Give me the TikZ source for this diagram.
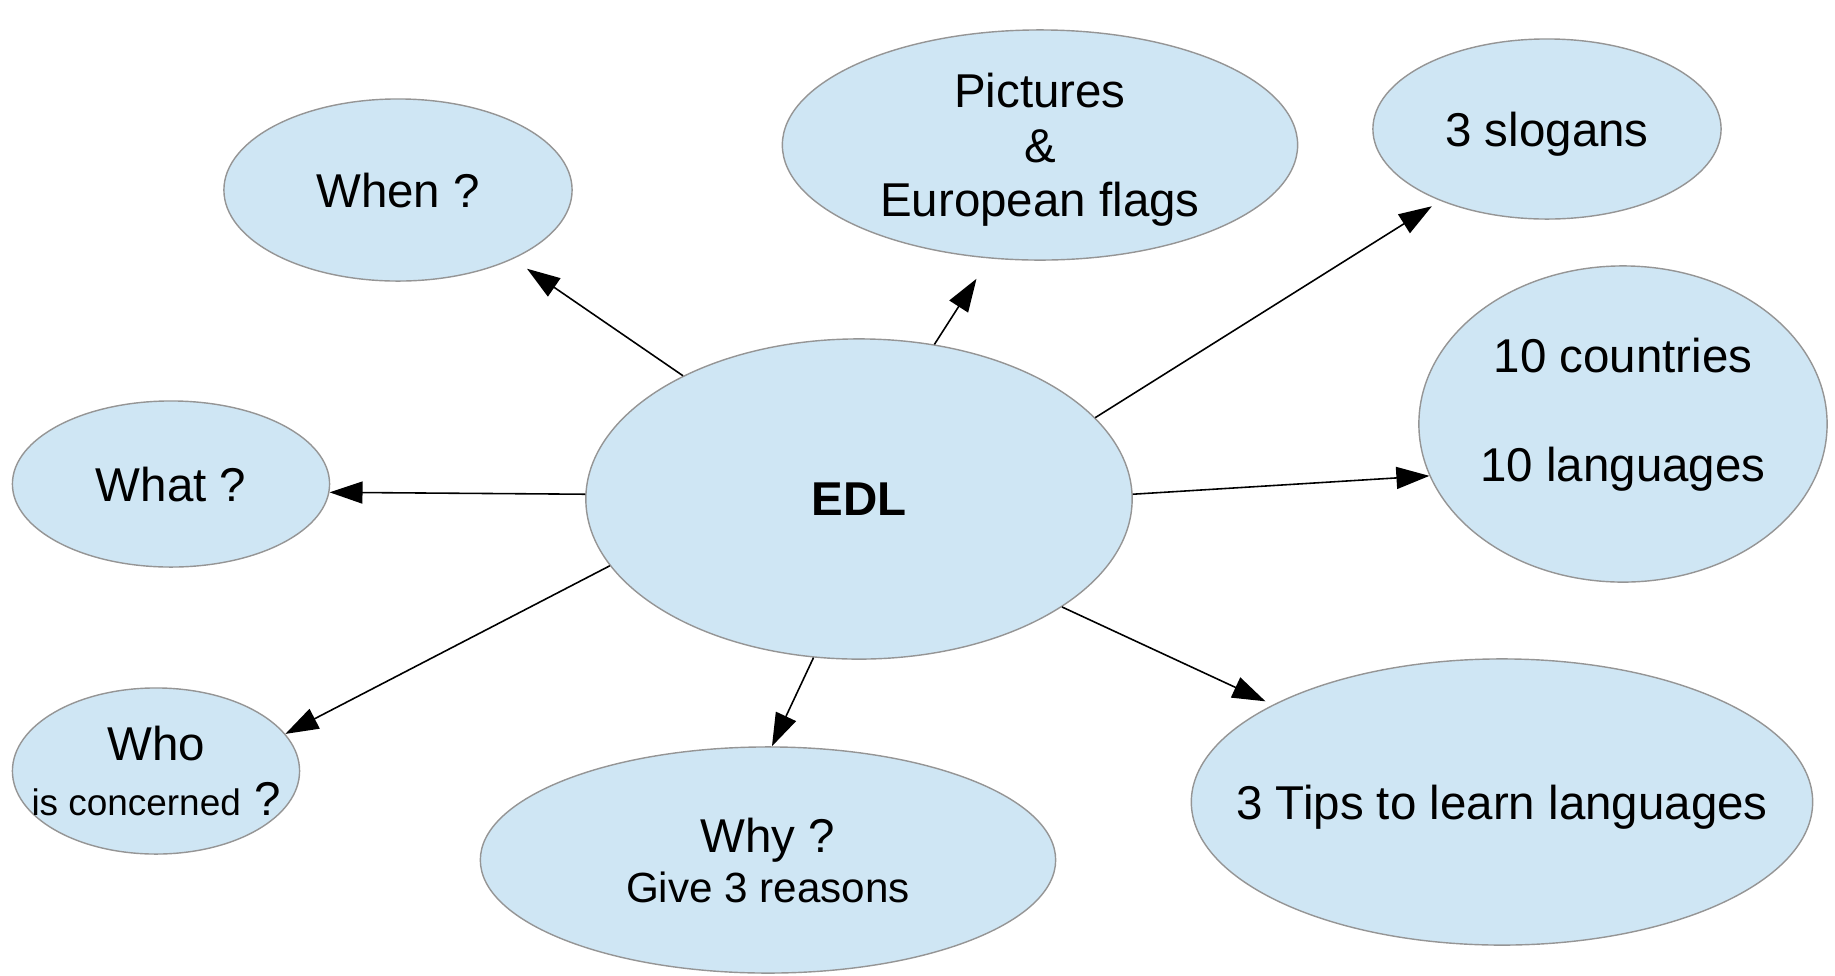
\documentclass[tikz,border=0pt]{standalone}
\usepackage{fontspec}
\setmainfont{Liberation Sans}
\usetikzlibrary{arrows.meta}
\usetikzlibrary{shapes.geometric}

\definecolor{bubblefill}{HTML}{CFE6F4}
\definecolor{bubbleline}{HTML}{959595}

\begin{document}
\begin{tikzpicture}[x=0.01cm, y=-0.01cm]

        \useasboundingbox (0,0) rectangle (1835,975);

        \begin{scope}[every node/.style={ellipse,draw=bubbleline,fill=bubblefill,line width=0.4pt,
                inner sep=0pt,text depth=0pt,align=center,font=\fontsize{13.5}{15.5}\selectfont}]
            \node[minimum width=5.46cm, minimum height=3.2cm, font=\fontsize{13.5}{15.5}\selectfont\bfseries] (EDL) at (859,499) {EDL};
            \node[minimum width=3.48cm, minimum height=1.82cm] (When) at (398,190) {When ?};
            \node[minimum width=5.15cm, minimum height=2.3cm] (Pics) at (1040,145) {Pictures\\ \&\\European flags};
            \node[minimum width=3.48cm, minimum height=1.8cm] (Slogans) at (1547,129) {3 slogans};
            \node[minimum width=4.08cm, minimum height=3.16cm, text depth=8.2pt] (Countries) at (1623,424) {10 countries\\[15.5pt]10 languages};
            \node[minimum width=3.17cm, minimum height=1.66cm] (What) at (171,484) {What ?};
            \node[minimum width=2.87cm, minimum height=1.66cm, inner xsep=-1cm] (Who) at (156,771) {Who\\{\fontsize{10.5}{12}\selectfont is concerned} ?};
            \node[minimum width=5.75cm, minimum height=2.26cm] (Why) at (768,860) {Why ?\\[-1.3pt]{\fontsize{12}{14}\selectfont Give 3 reasons}};
            \node[minimum width=6.21cm, minimum height=2.86cm, inner xsep=-1cm] (Tips) at (1502,802) {3 Tips to learn languages};
        \end{scope}

        \begin{scope}[>={Triangle[length=0.33cm,width=0.22cm]}, line width=0.45pt]
            \path [->] (EDL.145) edge[shorten >=0.17cm] (When.-31);
            \path [->] (EDL.64) edge[shorten >=0.24cm] (Pics.-114);
            \path [->] (EDL.19) edge[shorten >=0.10cm] (Slogans.-146);
            \path [->] (EDL.1.5) edge (Countries.-165);
            \path [->] (EDL.179) edge (What.-3);
            \path [->] (EDL.195) edge (Who.16);
            \path [->] (EDL.-106) edge (Why.88.5);
            \path [->] (EDL.-28) edge[shorten >=0.08cm] (Tips.157);
        \end{scope}

    \end{tikzpicture}
\end{document}
